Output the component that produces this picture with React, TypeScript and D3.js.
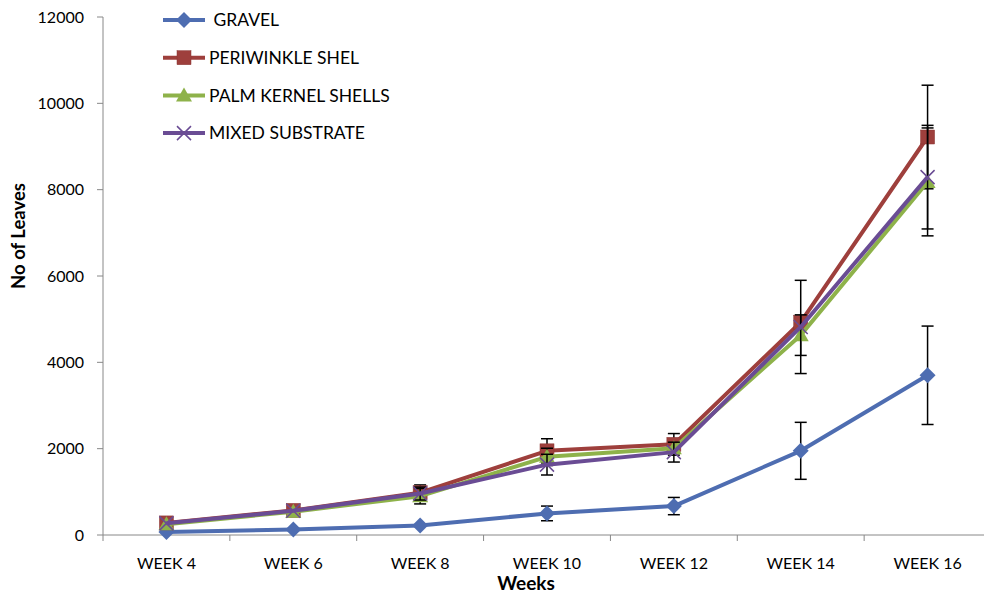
import React from "react";
import * as d3 from "d3";

const weeks = ["WEEK 4", "WEEK 6", "WEEK 8", "WEEK 10", "WEEK 12", "WEEK 14", "WEEK 16"];
const yTicks = [0, 2000, 4000, 6000, 8000, 10000, 12000];

const gravel = [70, 130, 220, 500, 670, 1950, 3700];
const gravelErr = [0, 0, 0, 170, 200, 660, 1140];
const periwinkle = [280, 570, 980, 1950, 2100, 4930, 9220];
const periwinkleErr = [0, 0, 180, 280, 250, 0, 1200];
const palmKernel = [250, 540, 900, 1810, 2010, 4630, 8180];
const palmKernelErr = [0, 0, 180, 200, 0, 470, 1250];
const mixed = [270, 560, 960, 1630, 1920, 4820, 8290];
const mixedErr = [0, 0, 150, 240, 230, 1080, 1200];

const seriesNames = [" GRAVEL", "PERIWINKLE SHEL", "PALM KERNEL SHELLS", "MIXED SUBSTRATE"];

const width = 984;
const height = 596;
const margin = { top: 17, right: -7, bottom: 61, left: 103 };
const font = "Lato, 'Open Sans', sans-serif";

type Series = { name: string; values: number[]; err: number[]; color: string; marker: string };

const series: Series[] = [
    { name: seriesNames[0], values: gravel, err: gravelErr, color: "#4E6DB1", marker: "diamond" },
    { name: seriesNames[1], values: periwinkle, err: periwinkleErr, color: "#9E3F3C", marker: "square" },
    { name: seriesNames[2], values: palmKernel, err: palmKernelErr, color: "#8EB24A", marker: "triangle" },
    { name: seriesNames[3], values: mixed, err: mixedErr, color: "#6A4C94", marker: "x" },
];

function Marker(props: { kind: string; x: number; y: number; color: string }) {
    const { kind, x, y, color } = props;
    if (kind === "diamond") {
        return <path d={`M${x},${y - 8}L${x + 8},${y}L${x},${y + 8}L${x - 8},${y}Z`} fill={color} />;
    }
    if (kind === "square") {
        return <rect x={x - 7} y={y - 7} width={14} height={14} fill={color} stroke="#8a3533" strokeWidth={0.5} />;
    }
    if (kind === "triangle") {
        return <path d={`M${x},${y - 8}L${x + 8},${y + 6}L${x - 8},${y + 6}Z`} fill={color} />;
    }
    return (
        <path
            d={`M${x - 7},${y - 7}L${x + 7},${y + 7}M${x + 7},${y - 7}L${x - 7},${y + 7}`}
            stroke={color}
            strokeWidth={1.5}
        />
    );
}

export default function App() {
    const x = d3.scaleBand().domain(weeks).range([margin.left, width - margin.right]);
    const y = d3.scaleLinear().domain([0, 12000]).range([height - margin.bottom, margin.top]);
    const cx = (w: string) => (x(w) as number) + x.bandwidth() / 2;

    const line = d3
        .line<number>()
        .x((_, i) => cx(weeks[i]))
        .y((d) => y(d));

    const y0 = y(0);
    const boundaries = weeks.map((w) => x(w) as number).concat([width - margin.right]);

    return (
        <svg width={width} height={height} style={{ position: "absolute", left: 0, top: 0, background: "#fff" }}>
            {/* axes */}
            <line x1={margin.left} x2={margin.left} y1={margin.top} y2={y0} stroke="#888" strokeWidth={1} />
            {yTicks.map((t) => (
                <g key={t}>
                    <line x1={margin.left - 6} x2={margin.left} y1={y(t)} y2={y(t)} stroke="#888" />
                    <text x={84} y={y(t)} dy="0.35em" textAnchor="end" fontFamily={font} fontSize={16} fill="#000">
                        {t}
                    </text>
                </g>
            ))}
            <line x1={margin.left} x2={width - margin.right} y1={y0} y2={y0} stroke="#888" />
            {boundaries.map((b, i) => (
                <line key={i} x1={b} x2={b} y1={y0} y2={y0 + 6} stroke="#888" />
            ))}
            {weeks.map((w) => (
                <text key={w} x={cx(w)} y={569} textAnchor="middle" fontFamily={font} fontSize={16} fill="#000">
                    {w}
                </text>
            ))}
            <text x={526} y={590} textAnchor="middle" fontFamily={font} fontSize={19} fontWeight="bold">
                Weeks
            </text>
            <text
                transform={`translate(25,${236}) rotate(-90)`}
                textAnchor="middle"
                fontFamily={font}
                fontSize={18.5}
                fontWeight="bold"
            >
                No of Leaves
            </text>

            {/* series */}
            {series.map((s) => (
                <g key={s.name}>
                    {s.values.map((v, i) =>
                        s.err[i] > 0 ? (
                            <g key={i} stroke="#000" strokeWidth={1.5}>
                                <line x1={cx(weeks[i])} x2={cx(weeks[i])} y1={y(v - s.err[i])} y2={y(v + s.err[i])} />
                                <line x1={cx(weeks[i]) - 6} x2={cx(weeks[i]) + 6} y1={y(v + s.err[i])} y2={y(v + s.err[i])} />
                                <line x1={cx(weeks[i]) - 6} x2={cx(weeks[i]) + 6} y1={y(v - s.err[i])} y2={y(v - s.err[i])} />
                            </g>
                        ) : null
                    )}
                    <path d={line(s.values) || ""} fill="none" stroke={s.color} strokeWidth={4} strokeLinejoin="round" />
                    {s.values.map((v, i) => (
                        <Marker key={i} kind={s.marker} x={cx(weeks[i])} y={y(v)} color={s.color} />
                    ))}
                </g>
            ))}

            {/* legend */}
            {series.map((s, i) => {
                const ly = 20 + i * 37.7;
                return (
                    <g key={s.name}>
                        <line x1={163} x2={205} y1={ly} y2={ly} stroke={s.color} strokeWidth={4} />
                        <Marker kind={s.marker} x={184} y={ly} color={s.color} />
                        <text
                            x={209}
                            y={ly}
                            dy="0.36em"
                            fontFamily={font}
                            fontSize={17.5}
                            fill="#000"
                            style={{ whiteSpace: "pre" }}
                        >
                            {s.name}
                        </text>
                    </g>
                );
            })}
        </svg>
    );
}
